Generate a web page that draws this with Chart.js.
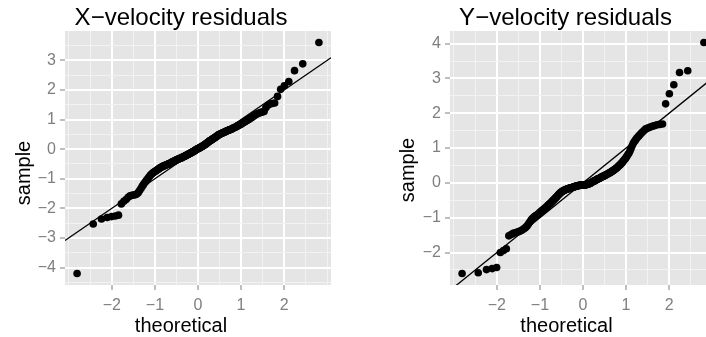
<!DOCTYPE html>
<html>
<head>
<meta charset="utf-8">
<script src="https://cdn.jsdelivr.net/npm/chart.js@4.4.1/dist/chart.umd.min.js"></script>
<style>
  html, body { margin: 0; padding: 0; background: #ffffff; overflow: hidden; }
  #wrap { position: relative; width: 706px; height: 337px; overflow: hidden; }
  canvas { position: absolute; top: 0; }
  #qqX { left: 0; }
  #qqY { left: 353px; }
</style>
</head>
<body>
<div id="wrap">
  <canvas id="qqX" width="362" height="337"></canvas>
  <canvas id="qqY" width="400" height="337"></canvas>
</div>
<script>
// Standard-normal quantiles of the 200 plotting positions (shared by both panels)
const theoretical = [
  -2.807,-2.432,-2.241,-2.108,-2.005,-1.919,-1.846,-1.780,-1.722,-1.669,
  -1.621,-1.576,-1.534,-1.495,-1.458,-1.422,-1.388,-1.356,-1.325,-1.296,
  -1.268,-1.240,-1.213,-1.188,-1.163,-1.138,-1.115,-1.092,-1.069,-1.047,
  -1.026,-1.005,-0.984,-0.964,-0.944,-0.925,-0.906,-0.887,-0.868,-0.850,
  -0.832,-0.815,-0.798,-0.781,-0.764,-0.747,-0.731,-0.714,-0.698,-0.682,
  -0.667,-0.651,-0.636,-0.620,-0.605,-0.590,-0.576,-0.561,-0.546,-0.532,
  -0.517,-0.503,-0.489,-0.475,-0.461,-0.447,-0.433,-0.419,-0.405,-0.392,
  -0.378,-0.365,-0.352,-0.338,-0.325,-0.312,-0.299,-0.286,-0.272,-0.259,
  -0.246,-0.233,-0.220,-0.208,-0.195,-0.182,-0.170,-0.157,-0.144,-0.132,
  -0.119,-0.107,-0.094,-0.082,-0.069,-0.056,-0.044,-0.031,-0.019,-0.006,
  0.006,0.019,0.031,0.044,0.056,0.069,0.082,0.094,0.107,0.119,
  0.132,0.144,0.157,0.170,0.182,0.195,0.208,0.220,0.233,0.246,
  0.259,0.272,0.286,0.299,0.312,0.325,0.338,0.352,0.365,0.378,
  0.392,0.405,0.419,0.433,0.447,0.461,0.475,0.489,0.503,0.517,
  0.532,0.546,0.561,0.576,0.590,0.605,0.620,0.636,0.651,0.667,
  0.682,0.698,0.714,0.731,0.747,0.764,0.781,0.798,0.815,0.832,
  0.850,0.868,0.887,0.906,0.925,0.944,0.964,0.984,1.005,1.026,
  1.047,1.069,1.092,1.115,1.138,1.163,1.188,1.213,1.240,1.268,
  1.296,1.325,1.356,1.388,1.422,1.458,1.495,1.534,1.576,1.621,
  1.669,1.722,1.780,1.846,1.919,2.005,2.108,2.241,2.432,2.807
];

// Sorted X-velocity residuals
const xResiduals = [
  -4.20,-2.53,-2.36,-2.31,-2.28,-2.26,-2.23,-1.85,-1.76,-1.70,
  -1.63,-1.58,-1.56,-1.55,-1.54,-1.52,-1.47,-1.40,-1.33,-1.26,
  -1.20,-1.14,-1.09,-1.04,-0.99,-0.94,-0.90,-0.86,-0.83,-0.80,
  -0.78,-0.76,-0.74,-0.72,-0.70,-0.68,-0.66,-0.64,-0.62,-0.61,
  -0.59,-0.58,-0.57,-0.56,-0.55,-0.54,-0.53,-0.52,-0.51,-0.50,
  -0.49,-0.48,-0.47,-0.46,-0.44,-0.43,-0.42,-0.41,-0.40,-0.39,
  -0.38,-0.37,-0.36,-0.35,-0.34,-0.33,-0.32,-0.31,-0.31,-0.30,
  -0.29,-0.28,-0.27,-0.26,-0.25,-0.24,-0.23,-0.22,-0.21,-0.20,
  -0.19,-0.18,-0.17,-0.16,-0.15,-0.14,-0.13,-0.12,-0.11,-0.10,
  -0.09,-0.08,-0.07,-0.06,-0.04,-0.03,-0.02,-0.01,0.00,0.01,
  0.02,0.03,0.04,0.05,0.06,0.07,0.08,0.09,0.10,0.11,
  0.12,0.14,0.15,0.16,0.18,0.19,0.20,0.22,0.23,0.25,
  0.26,0.28,0.29,0.30,0.31,0.33,0.34,0.35,0.36,0.38,
  0.39,0.40,0.42,0.43,0.45,0.46,0.48,0.49,0.50,0.51,
  0.52,0.53,0.54,0.55,0.56,0.57,0.58,0.59,0.60,0.61,
  0.62,0.63,0.64,0.65,0.66,0.67,0.68,0.69,0.71,0.72,
  0.73,0.74,0.76,0.77,0.79,0.80,0.82,0.83,0.85,0.87,
  0.89,0.91,0.93,0.95,0.97,0.99,1.01,1.04,1.06,1.09,
  1.12,1.15,1.18,1.20,1.22,1.24,1.25,1.27,1.40,1.48,
  1.52,1.54,1.56,1.78,2.02,2.14,2.28,2.65,2.88,3.60
];

// Sorted Y-velocity residuals
const yResiduals = [
  -2.60,-2.58,-2.49,-2.46,-2.43,-2.00,-1.94,-1.89,-1.52,-1.48,
  -1.45,-1.43,-1.42,-1.40,-1.38,-1.36,-1.33,-1.30,-1.27,-1.23,
  -1.18,-1.13,-1.08,-1.04,-1.01,-0.98,-0.96,-0.94,-0.92,-0.90,
  -0.88,-0.85,-0.83,-0.81,-0.79,-0.77,-0.75,-0.73,-0.71,-0.69,
  -0.67,-0.65,-0.63,-0.61,-0.59,-0.57,-0.55,-0.53,-0.51,-0.49,
  -0.47,-0.45,-0.43,-0.41,-0.39,-0.37,-0.35,-0.33,-0.31,-0.29,
  -0.28,-0.26,-0.25,-0.24,-0.23,-0.22,-0.21,-0.20,-0.20,-0.19,
  -0.18,-0.18,-0.17,-0.16,-0.16,-0.15,-0.15,-0.14,-0.14,-0.13,
  -0.13,-0.12,-0.12,-0.11,-0.11,-0.10,-0.10,-0.09,-0.09,-0.08,
  -0.08,-0.08,-0.07,-0.07,-0.07,-0.06,-0.06,-0.06,-0.06,-0.06,
  -0.06,-0.06,-0.06,-0.06,-0.05,-0.05,-0.05,-0.04,-0.04,-0.03,
  -0.03,-0.02,-0.02,-0.01,0.00,0.01,0.02,0.03,0.04,0.05,
  0.05,0.06,0.07,0.08,0.09,0.10,0.11,0.12,0.12,0.13,
  0.14,0.15,0.16,0.17,0.18,0.19,0.19,0.20,0.21,0.22,
  0.23,0.24,0.25,0.26,0.27,0.28,0.29,0.30,0.31,0.33,
  0.34,0.35,0.37,0.38,0.40,0.41,0.43,0.45,0.47,0.49,
  0.51,0.53,0.56,0.58,0.61,0.64,0.67,0.70,0.74,0.78,
  0.82,0.86,0.92,0.99,1.06,1.13,1.18,1.22,1.27,1.31,
  1.35,1.39,1.43,1.47,1.51,1.55,1.57,1.59,1.61,1.63,
  1.65,1.67,1.68,1.69,2.27,2.56,2.82,3.17,3.22,4.03
];

// Labelled axis breaks
const theoreticalBreaks = [-2, -1, 0, 1, 2];
const xResidualBreaks = [-4, -3, -2, -1, 0, 1, 2, 3];
const yResidualBreaks = [-2, -1, 0, 1, 2, 3, 4];

// Reference line y = intercept + slope * x
const refIntercept = 0;
const refSlope = 1;

const FONT = '"Liberation Sans", Arial, Helvetica, sans-serif';
const PANEL_BG = '#E5E5E5';
const GRID_MAJOR = '#FFFFFF';
const GRID_MINOR = '#F2F2F2';
const TICK_GREY = '#7F7F7F';

function expandRange(values, frac) {
  const lo = Math.min(...values), hi = Math.max(...values);
  const pad = (hi - lo) * frac;
  return [lo - pad, hi + pad];
}

// Major breaks plus the half-way minor breaks that fall inside the range
function gridBreaks(major, lo, hi) {
  const step = major[1] - major[0];
  const out = [];
  const start = major[0] - step, end = major[major.length - 1] + step;
  for (let k = 0; start + k * step / 2 <= end + 1e-9; k++) {
    const v = +(start + k * step / 2).toFixed(6);
    if (v >= lo && v <= hi) out.push(v);
  }
  return out;
}

function fmt(v) {
  return v < 0 ? '\u2212' + Math.abs(v) : String(v);
}

const panelText = {
  id: 'panelText',
  beforeDraw(chart, args, opts) {
    const { ctx, chartArea: a } = chart;
    ctx.save();
    ctx.fillStyle = PANEL_BG;
    ctx.fillRect(a.left, a.top, a.right - a.left, a.bottom - a.top);
    ctx.restore();
  },
  afterDraw(chart, args, opts) {
    const ctx = chart.ctx;
    ctx.save();
    ctx.fillStyle = '#000000';
    ctx.textAlign = 'center';
    ctx.textBaseline = 'alphabetic';
    ctx.font = '24px ' + FONT;
    ctx.fillText(opts.title, opts.titleX, opts.titleY);
    ctx.font = '20px ' + FONT;
    ctx.fillText(opts.xTitle, opts.xTitleX, opts.xTitleY);
    ctx.translate(opts.yTitleX, opts.yTitleY);
    ctx.rotate(-Math.PI / 2);
    ctx.fillText(opts.yTitle, 0, 0);
    ctx.restore();
  }
};

function qqChart(canvasId, sample, yBreaks, lay) {
  const [xMin, xMax] = expandRange(theoretical, 0.05);
  const [yMin, yMax] = expandRange(sample, 0.05);
  const xGrid = gridBreaks(theoreticalBreaks, xMin, xMax);
  const yGrid = gridBreaks(yBreaks, yMin, yMax);
  const isMajor = (list, v) => list.some(b => Math.abs(b - v) < 1e-9);

  const axis = (major, grid, min, max, fit, labelPad) => ({
    type: 'linear',
    min: min,
    max: max,
    afterBuildTicks: s => { s.ticks = grid.map(v => ({ value: v })); },
    afterFit: fit,
    border: { display: false },
    grid: {
      color: c => isMajor(major, c.tick.value) ? GRID_MAJOR : GRID_MINOR,
      lineWidth: c => isMajor(major, c.tick.value) ? 2 : 1,
      drawTicks: true,
      tickLength: 5,
      tickWidth: 1,
      tickColor: c => isMajor(major, c.tick.value) ? TICK_GREY : 'rgba(0,0,0,0)'
    },
    ticks: {
      autoSkip: false,
      maxRotation: 0,
      minRotation: 0,
      padding: labelPad,
      color: TICK_GREY,
      font: { family: FONT, size: 16 },
      callback: v => isMajor(major, v) ? fmt(v) : ''
    }
  });

  return new Chart(document.getElementById(canvasId), {
    type: 'scatter',
    data: {
      datasets: [
        {
          data: theoretical.map((t, i) => ({ x: t, y: sample[i] })),
          pointRadius: 3.8,
          pointHoverRadius: 3.8,
          pointBackgroundColor: '#000000',
          pointBorderWidth: 0,
          showLine: false
        },
        {
          type: 'line',
          data: [
            { x: xMin, y: refIntercept + refSlope * xMin },
            { x: xMax, y: refIntercept + refSlope * xMax }
          ],
          borderColor: '#000000',
          borderWidth: 1.3,
          pointRadius: 0,
          fill: false
        }
      ]
    },
    options: {
      responsive: false,
      animation: false,
      events: [],
      layout: { padding: lay.padding },
      plugins: {
        legend: { display: false },
        tooltip: { enabled: false },
        title: { display: false },
        panelText: lay.text
      },
      scales: {
        x: axis(theoreticalBreaks, xGrid, xMin, xMax, s => { s.height = lay.xAxisHeight; }, 6),
        y: axis(yBreaks, yGrid, yMin, yMax, s => { s.width = lay.yAxisWidth; }, 4)
      }
    },
    plugins: [panelText]
  });
}

qqChart('qqX', xResiduals, xResidualBreaks, {
  padding: { top: 31, right: 31, bottom: 0, left: 0 },
  yAxisWidth: 65,
  xAxisHeight: 52,
  text: {
    title: 'X\u2212velocity residuals', titleX: 181, titleY: 25,
    xTitle: 'theoretical', xTitleX: 181, xTitleY: 331.5,
    yTitle: 'sample', yTitleX: 29.5, yTitleY: 173
  }
});

qqChart('qqY', yResiduals, yResidualBreaks, {
  padding: { top: 31, right: 37, bottom: 0, left: 0 },
  yAxisWidth: 97,
  xAxisHeight: 52,
  text: {
    title: 'Y\u2212velocity residuals', titleX: 212.5, titleY: 25,
    xTitle: 'theoretical', xTitleX: 213.5, xTitleY: 331.5,
    yTitle: 'sample', yTitleX: 61, yTitleY: 170
  }
});
</script>
</body>
</html>
